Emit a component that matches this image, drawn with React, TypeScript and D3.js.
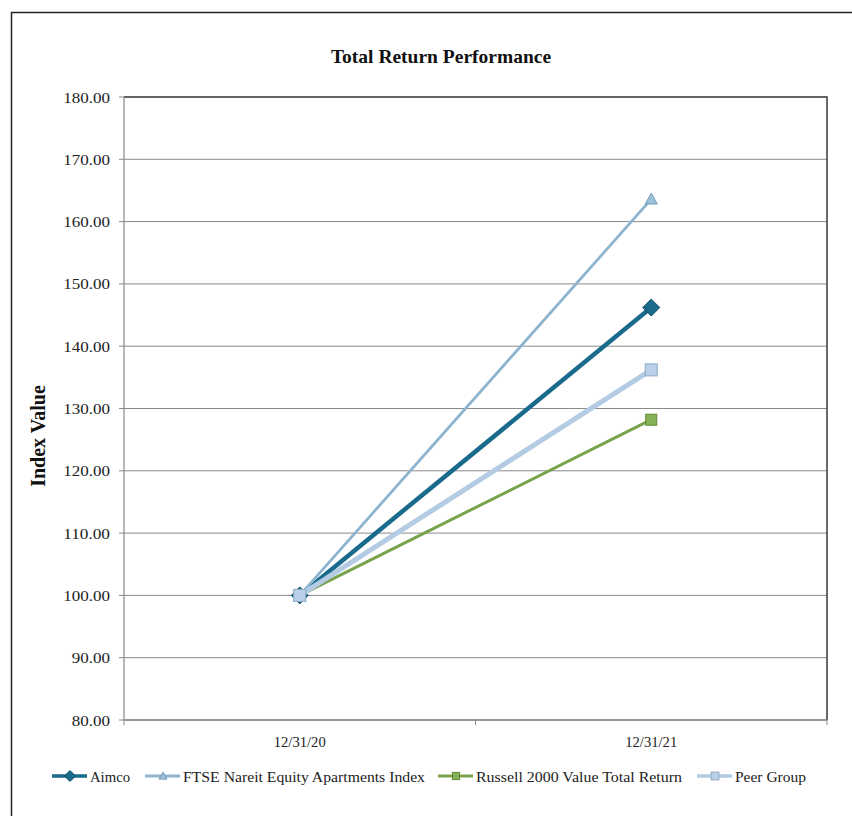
import React from "react";
import * as d3 from "d3";

const categories = ["12/31/20", "12/31/21"];
const seriesNames = [
  "Aimco",
  "FTSE Nareit Equity Apartments Index",
  "Russell 2000 Value Total Return",
  "Peer Group",
];
const aimco = [100, 146.2];
const ftse = [100, 163.6];
const russell = [100, 128.2];
const peer = [100, 136.2];
const yTicks = [80, 90, 100, 110, 120, 130, 140, 150, 160, 170, 180];

const W = 852;
const H = 816;
const FONT = "'Liberation Serif', 'Times New Roman', 'DejaVu Serif', serif";

type Style = {
  color: string;
  width: number;
  marker: "diamond" | "triangle" | "square";
  size: number;
  fill: string;
  stroke: string;
};

const styles: Style[] = [
  { color: "#1a6a8c", width: 4.5, marker: "diamond", size: 17, fill: "#1a6a8c", stroke: "#14506b" },
  { color: "#8db4cf", width: 2.8, marker: "triangle", size: 12, fill: "#9bc0d8", stroke: "#6f9ab8" },
  { color: "#78a24c", width: 3, marker: "square", size: 11, fill: "#86b257", stroke: "#5d8a36" },
  { color: "#b3cbe3", width: 5, marker: "square", size: 12, fill: "#b9d0e8", stroke: "#8eaac8" },
];

function Marker({ x, y, s }: { x: number; y: number; s: Style }) {
  const h = s.size / 2;
  if (s.marker === "diamond") {
    return (
      <path
        d={`M${x},${y - h}L${x + h},${y}L${x},${y + h}L${x - h},${y}Z`}
        fill={s.fill}
        stroke={s.stroke}
        strokeWidth={1}
      />
    );
  }
  if (s.marker === "triangle") {
    return (
      <path
        d={`M${x},${y - h}L${x + h},${y + h * 0.8}L${x - h},${y + h * 0.8}Z`}
        fill={s.fill}
        stroke={s.stroke}
        strokeWidth={1}
      />
    );
  }
  return (
    <rect x={x - h} y={y - h} width={s.size} height={s.size} fill={s.fill} stroke={s.stroke} strokeWidth={1} />
  );
}

// approximate advance width (in em) of a numeric label: digits 0.5em, "." 0.25em
const numEm = (s: string) => s.split("").reduce((a, ch) => a + (ch === "." ? 0.25 : 0.5), 0);

export default function App() {
  const left = 124;
  const right = 827;
  const top = 97;
  const bottom = 720;

  const x = d3.scaleBand<string>().domain(categories).range([left, right]);
  const y = d3.scaleLinear().domain([80, 180]).range([bottom, top]);
  const cx = (c: string) => (x(c) as number) + x.bandwidth() / 2;

  const data = [aimco, ftse, russell, peer];
  const line = d3
    .line<number>()
    .x((_, i) => cx(categories[i]))
    .y((v) => y(v));

  const legendY = 776;
  const legendItems = [
    { x: 52, s: styles[0], label: seriesNames[0], len: 40 },
    { x: 145, s: styles[1], label: seriesNames[1], len: 242 },
    { x: 438, s: styles[2], label: seriesNames[2], len: 206 },
    { x: 697, s: styles[3], label: seriesNames[3], len: 71 },
  ];

  const txt = { fontFamily: FONT } as React.CSSProperties;

  return (
    <svg
      width={W}
      height={H}
      style={{ position: "absolute", left: 0, top: 0, background: "#fff", fontFamily: FONT }}
    >
      <rect x={0} y={0} width={W} height={H} fill="#fff" />
      {/* outer frame */}
      <path d={`M11.5,${H}V12.5H${W}`} fill="none" stroke="#222" strokeWidth={1.5} />

      <text x={441} y={63} textAnchor="middle" fontSize={19.5} fontWeight="bold" fill="#111" style={txt}>
        Total Return Performance
      </text>

      {/* gridlines */}
      {yTicks.map((t) => (
        <line key={t} x1={left} x2={right} y1={y(t)} y2={y(t)} stroke="#8a8a8a" strokeWidth={1} />
      ))}

      {/* plot border: top & right */}
      <path d={`M${left},${top}H${right}V${bottom}`} fill="none" stroke="#444" strokeWidth={1.6} />

      {/* axes */}
      <line x1={left} x2={left} y1={top} y2={bottom} stroke="#888" strokeWidth={1.2} />
      <line x1={left} x2={right} y1={bottom} y2={bottom} stroke="#888" strokeWidth={1.5} />
      {yTicks.map((t) => {
        const label = t.toFixed(2);
        return (
          <g key={t}>
            <line x1={left - 5} x2={left} y1={y(t)} y2={y(t)} stroke="#888" />
            <text
              x={110}
              y={y(t) + 5.5}
              textAnchor="end"
              fontSize={15.5}
              textLength={numEm(label) * 17}
              lengthAdjust="spacingAndGlyphs"
              fill="#222"
              style={txt}
            >
              {label}
            </text>
          </g>
        );
      })}
      {[left, left + x.bandwidth(), right].map((xx, i) => (
        <line key={i} x1={xx} x2={xx} y1={bottom} y2={bottom + 5} stroke="#888" />
      ))}
      {categories.map((c) => (
        <text
          key={c}
          x={cx(c) - 26}
          y={747}
          fontSize={15}
          textLength={52}
          lengthAdjust="spacingAndGlyphs"
          fill="#222"
          style={txt}
        >
          {c}
        </text>
      ))}

      <text
        transform={`translate(45,436) rotate(-90)`}
        textAnchor="middle"
        fontSize={20}
        fontWeight="bold"
        fill="#111"
        style={txt}
      >
        Index Value
      </text>

      {/* series, drawn in legend order */}
      {data.map((vals, k) => (
        <g key={k}>
          <path d={line(vals) as string} fill="none" stroke={styles[k].color} strokeWidth={styles[k].width} />
          {vals.map((v, i) => (
            <Marker key={i} x={cx(categories[i])} y={y(v)} s={styles[k]} />
          ))}
        </g>
      ))}

      {/* legend */}
      {legendItems.map((it, i) => (
        <g key={i}>
          <line x1={it.x} x2={it.x + 35} y1={legendY} y2={legendY} stroke={it.s.color} strokeWidth={Math.min(it.s.width, 3.5)} />
          <Marker x={it.x + 18} y={legendY} s={{ ...it.s, size: it.s.size * 0.65 }} />
          <text
            x={it.x + 38}
            y={legendY + 5.5}
            fontSize={15.5}
            textLength={it.len}
            lengthAdjust="spacingAndGlyphs"
            fill="#222"
            style={txt}
          >
            {it.label}
          </text>
        </g>
      ))}
    </svg>
  );
}
